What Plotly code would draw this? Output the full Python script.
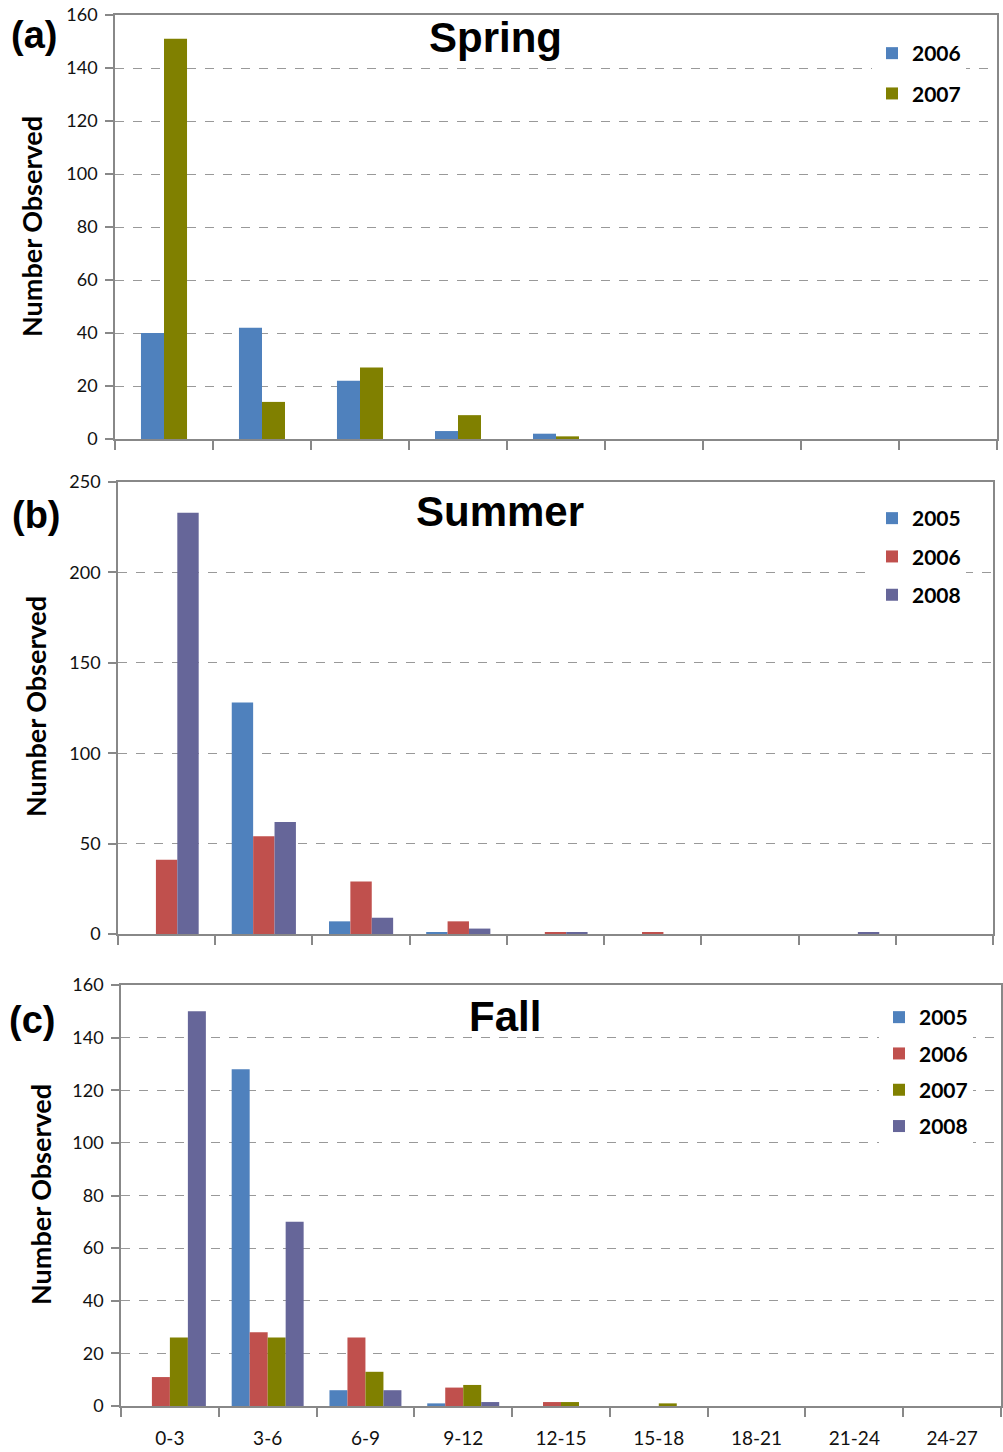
import plotly.graph_objects as go

categories = ["0-3", "3-6", "6-9", "9-12", "12-15", "15-18", "18-21", "21-24", "24-27"]

spring_2006 = [40, 42, 22, 3, 2, 0, 0, 0, 0]
spring_2007 = [151, 14, 27, 9, 1, 0, 0, 0, 0]

summer_2005 = [0, 128, 7, 1, 0, 0, 0, 0, 0]
summer_2006 = [41, 54, 29, 7, 1, 1, 0, 0, 0]
summer_2008 = [233, 62, 9, 3, 1, 0, 0, 1, 0]

fall_2005 = [0, 128, 6, 1, 0, 0, 0, 0, 0]
fall_2006 = [11, 28, 26, 7, 1.5, 0, 0, 0, 0]
fall_2007 = [26, 26, 13, 8, 1.5, 1, 0, 0, 0]
fall_2008 = [150, 70, 6, 1.5, 0, 0, 0, 0, 0]

BLUE = "#4F81BD"
RED = "#C0504D"
OLIVE = "#808000"
PURPLE = "#666699"

W, H = 1003, 1452
YTICKFONT = dict(family="Lato, Open Sans, sans-serif", size=18, color="#111")
XTICKFONT = dict(family="Lato, Open Sans, sans-serif", size=19, color="#111")
LEGFONT = dict(family="Lato, sans-serif", size=21, color="black", weight="bold")

fig = go.Figure()

def add_panel(series, xa, ya, legend, width):
    n = len(series)
    start = -n * width / 2
    for i, (name, vals, color) in enumerate(series):
        fig.add_trace(go.Bar(
            x=categories, y=vals, name=name, marker_color=color,
            marker_line_width=0, width=width, offset=start + i * width,
            xaxis=xa, yaxis=ya, legend=legend, legendgroup=legend + name,
        ))

add_panel([("2006", spring_2006, BLUE), ("2007", spring_2007, OLIVE)], "x", "y", "legend", 0.235)
add_panel([("2005", summer_2005, BLUE), ("2006", summer_2006, RED), ("2008", summer_2008, PURPLE)],
          "x2", "y2", "legend2", 0.22)
add_panel([("2005", fall_2005, BLUE), ("2006", fall_2006, RED), ("2007", fall_2007, OLIVE),
           ("2008", fall_2008, PURPLE)], "x3", "y3", "legend3", 0.184)

def clamp(v):
    return max(0.0, min(1.0, v))

def px_(pix):
    return pix / W

def py(pix):
    return 1 - pix / H

panels = [
    dict(xd=(115, 997), yd=(15, 439), rng=160, dt=20),
    dict(xd=(118, 993), yd=(482, 934), rng=250, dt=50),
    dict(xd=(121, 1001), yd=(985, 1406), rng=160, dt=20),
]

layout = {}
for k, p in enumerate(panels):
    sfx = "" if k == 0 else str(k + 1)
    layout["xaxis" + sfx] = dict(
        domain=[clamp(px_(p["xd"][0])), clamp(px_(p["xd"][1]))], anchor="y" + sfx, automargin=False,
        type="category", categoryorder="array", categoryarray=categories,
        range=[-0.5, 8.5], tickson="boundaries", ticks="outside", ticklen=9,
        tickcolor="#888", tickwidth=1.5, showline=True, linecolor="#888", linewidth=1.5,
        mirror=True, showgrid=False, showticklabels=(k == 2), tickfont=XTICKFONT,
        ticklabelstandoff=14, ticklabeloverflow="allow",
    )
    layout["yaxis" + sfx] = dict(
        domain=[clamp(py(p["yd"][1])), clamp(py(p["yd"][0]))], anchor="x" + sfx, automargin=False,
        range=[0, p["rng"]], dtick=p["dt"], tick0=0, ticks="outside", ticklen=8,
        tickcolor="#888", tickwidth=1.5, showline=True, linecolor="#888", linewidth=1.5,
        mirror=True, showgrid=True, gridcolor="#999", griddash="dash", gridwidth=1,
        zeroline=False, tickfont=YTICKFONT, ticklabelstandoff=4, ticklabeloverflow="allow",
    )

legend_common = dict(font=LEGFONT, bgcolor="white", xanchor="left", yanchor="top", itemwidth=30)
layout["legend"] = dict(x=px_(872), y=py(33), tracegroupgap=10, **legend_common)
layout["legend2"] = dict(x=px_(872), y=py(498), tracegroupgap=8, **legend_common)
layout["legend3"] = dict(x=px_(879), y=py(997), tracegroupgap=6, **legend_common)

ann = []
titles = [("Spring", 495, 37), ("Summer", 500, 511), ("Fall", 505, 1016)]
for t, x, y in titles:
    ann.append(dict(text=t, x=px_(x), y=py(y), xref="paper", yref="paper", showarrow=False,
                    font=dict(family="Liberation Sans, Arial", size=42, color="black", weight="bold"),
                    xanchor="center", yanchor="middle"))
labels = [("(a)", 34, 35), ("(b)", 36, 515), ("(c)", 32, 1020)]
for t, x, y in labels:
    ann.append(dict(text=t, x=px_(x), y=py(y), xref="paper", yref="paper", showarrow=False,
                    font=dict(family="Liberation Sans, Arial", size=38, color="black", weight="bold"),
                    xanchor="center", yanchor="middle"))
ytitles = [(32, 227), (36, 707), (40, 1195)]
for x, y in ytitles:
    ann.append(dict(text="Number Observed", x=px_(x), y=py(y), xref="paper", yref="paper",
                    showarrow=False, textangle=-90,
                    font=dict(family="Lato, sans-serif", size=27, color="black", weight="bold"),
                    xanchor="center", yanchor="middle"))

fig.update_layout(
    width=W, height=H, margin=dict(l=0, r=0, t=0, b=0, autoexpand=False),
    paper_bgcolor="white", plot_bgcolor="white", barmode="overlay",
    showlegend=True, annotations=ann, **layout,
)

fig.write_html("out.html", config={"displayModeBar": False},
               post_script="document.body.style.margin='0';")
